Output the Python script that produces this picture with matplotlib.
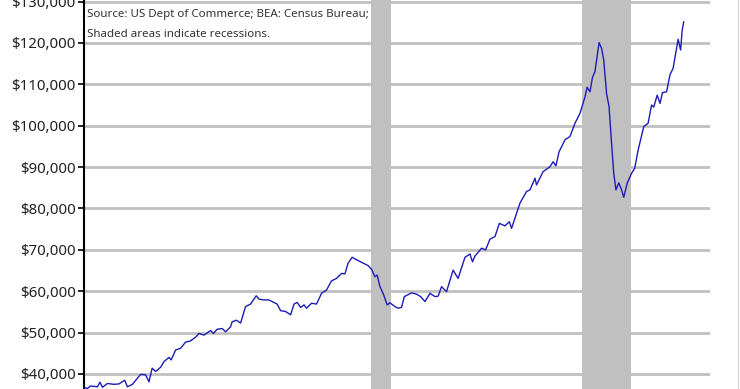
import matplotlib.pyplot as plt
import matplotlib.ticker as ticker
from matplotlib.lines import Line2D

# month position (decimal year) and monthly value in dollars (millions)
years = [
    1992.00, 1992.11, 1992.21, 1992.43, 1992.51, 1992.59, 1992.75, 1992.96,
    1993.12, 1993.30, 1993.39, 1993.55, 1993.71, 1993.81, 1993.97, 1994.08,
    1994.18, 1994.29, 1994.45, 1994.56, 1994.72, 1994.79, 1994.93, 1995.09,
    1995.25, 1995.41, 1995.57, 1995.68, 1995.84, 1996.05, 1996.14, 1996.26,
    1996.42, 1996.53, 1996.69, 1996.74, 1996.88, 1997.01, 1997.17, 1997.33,
    1997.51, 1997.60, 1997.76, 1997.92, 1998.02, 1998.18, 1998.29, 1998.45,
    1998.61, 1998.72, 1998.82, 1998.93, 1999.04, 1999.12, 1999.28, 1999.44,
    1999.60, 1999.76, 1999.92, 2000.08, 2000.24, 2000.35, 2000.45, 2000.58,
    2000.72, 2000.93, 2001.09, 2001.20, 2001.31, 2001.38, 2001.47, 2001.57,
    2001.70, 2001.79, 2001.95, 2002.05, 2002.16, 2002.25, 2002.48, 2002.64,
    2002.77, 2002.91, 2003.07, 2003.23, 2003.33, 2003.44, 2003.60, 2003.81,
    2003.97, 2004.19, 2004.35, 2004.43, 2004.51, 2004.72, 2004.85, 2004.99,
    2005.15, 2005.29, 2005.47, 2005.61, 2005.68, 2005.95, 2006.16, 2006.27,
    2006.43, 2006.48, 2006.69, 2006.91, 2007.01, 2007.10, 2007.20, 2007.39,
    2007.55, 2007.71, 2007.87, 2008.03, 2008.10, 2008.19, 2008.27, 2008.35,
    2008.48, 2008.56, 2008.63, 2008.72, 2008.80, 2008.88, 2008.95, 2009.02,
    2009.11, 2009.20, 2009.27, 2009.38, 2009.52, 2009.62, 2009.73, 2009.91,
    2010.05, 2010.16, 2010.23, 2010.34, 2010.43, 2010.51, 2010.64, 2010.75,
    2010.85, 2011.01, 2011.09, 2011.14, 2011.19,
]
values = [
    36800, 36500, 37100, 36900, 38000, 36800, 37700, 37500,
    37600, 38500, 36900, 37500, 39000, 39900, 39800, 38100,
    41400, 40600, 41600, 43000, 44000, 43400, 45800, 46200,
    47700, 48000, 48900, 49800, 49400, 50500, 49800, 50800,
    51000, 50200, 51400, 52600, 53000, 52300, 56300, 56900,
    58900, 58100, 57900, 57900, 57500, 56900, 55300, 55100,
    54300, 56900, 57300, 56100, 56700, 55900, 57100, 56900,
    59500, 60300, 62500, 63100, 64300, 64200, 66800, 68200,
    67600, 66800, 66200, 65300, 63500, 63900, 61100, 59500,
    56700, 57200, 56300, 55900, 56100, 58700, 59600, 59300,
    58700, 57500, 59500, 58700, 58800, 61100, 59900, 65100,
    63100, 68200, 69000, 67100, 68500, 70400, 70000, 72600,
    73200, 76400, 75800, 76800, 75200, 81300, 84100, 84500,
    87300, 85700, 88900, 90100, 91300, 90300, 93700, 96600,
    97400, 100600, 103000, 107000, 109300, 108200, 111700, 113100,
    120100, 118700, 115900, 107800, 104600, 95800, 88500, 84500,
    86200, 84500, 82700, 86100, 88500, 89700, 94100, 99800,
    100600, 105000, 104500, 107400, 105400, 108000, 108200, 112300,
    113900, 120900, 118300, 123100, 125100,
]

# recessions: Mar-Nov 2001 and Dec 2007-Jun 2009
recession_start = [2001.17, 2007.92]
recession_end = [2001.83, 2009.50]

y_ticks = [40000, 50000, 60000, 70000, 80000, 90000, 100000, 110000, 120000, 130000]
note = 'Source: US Dept of Commerce; BEA: Census Bureau;\nShaded areas indicate recessions.'


def dollars(x, _):
    return f'${x:,.0f}'


def plot():
    plt.rcParams['font.family'] = ['Noto Sans', 'DejaVu Sans']
    fig = plt.figure(figsize=(7.4, 3.89), dpi=100)
    ax = fig.add_axes([84 / 740, 0, 626 / 740, 1])

    for start, end in zip(recession_start, recession_end):
        ax.axvspan(start, end, color='#c0c0c0', lw=0, zorder=3)
    ax.plot(years, values, color='#1c1cb8', lw=1.0, zorder=5)

    ax.set_xlim(1992.0, 2012.03)
    ax.set_ylim(36370, 130390)
    ax.set_yticks(y_ticks)
    ax.yaxis.set_major_formatter(ticker.FuncFormatter(dollars))
    ax.set_xticks([])
    ax.grid(axis='y', color='#c0c0c0', lw=2, zorder=0)
    ax.set_axisbelow(True)

    for side in ['top', 'right', 'bottom']:
        ax.spines[side].set_visible(False)
    ax.spines['left'].set_linewidth(1.5)
    ax.tick_params(axis='y', length=4, width=1.2, pad=2, labelsize=10.8,
                   labelcolor='#222222')

    ax.text(0.005, 0.978, note, transform=ax.transAxes, va='top', ha='left',
            fontsize=8.3, color='#333333', linespacing=2.15, zorder=6)

    # faint frame line at the right edge of the picture
    fig.add_artist(Line2D([0.997, 0.997], [0, 1], color='#d8d8d8', lw=1))
    fig.savefig('out.png', dpi=100)


plot()
